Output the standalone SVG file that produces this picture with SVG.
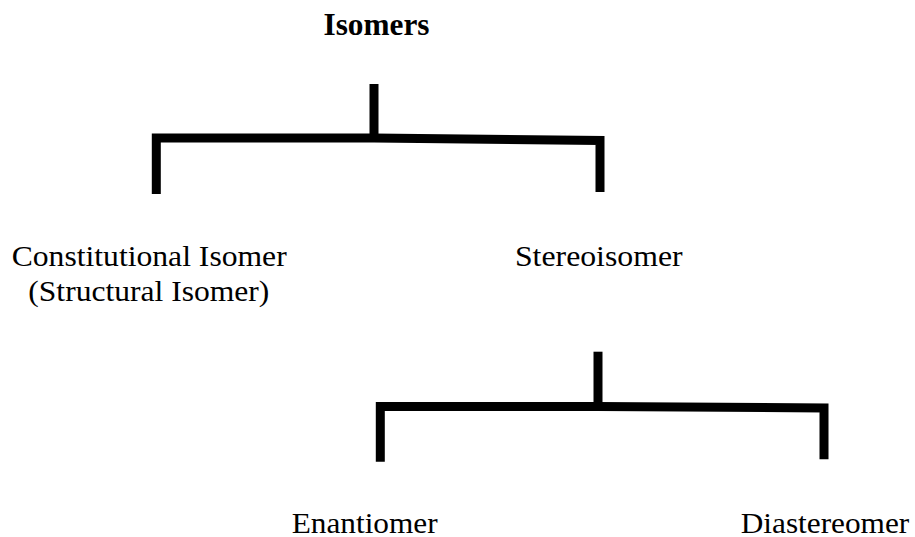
<svg xmlns="http://www.w3.org/2000/svg" width="915" height="537" viewBox="0 0 915 537">
<style>
.t{font-family:"Liberation Serif","Times New Roman",serif;font-size:28.5px;fill:#000;text-anchor:middle}
.b{font-weight:bold;font-size:32.5px}
.c{fill:none;stroke:#000;stroke-width:9;stroke-linejoin:miter;stroke-linecap:butt}
</style>
<rect width="915" height="537" fill="#fff"/>
<g id="connectors">
<path class="c" d="M374,84 V138"/>
<path class="c" d="M156.3,194 V138 H374 L600,140.5 V192"/>
<path class="c" d="M598,351.7 V406.5"/>
<path class="c" d="M380.3,461.7 V406.5 H598 L824,408 V459.3"/>
</g>
<g id="isomers"><text class="t b" x="376.5" y="35.3" textLength="106" lengthAdjust="spacingAndGlyphs">Isomers</text></g>
<g id="constitutional"><text class="t" x="149.2" y="266" textLength="275" lengthAdjust="spacingAndGlyphs">Constitutional Isomer</text><text class="t" x="148.8" y="301" textLength="241" lengthAdjust="spacingAndGlyphs">(Structural Isomer)</text></g>
<g id="stereoisomer"><text class="t" x="598.8" y="266" textLength="167.7" lengthAdjust="spacingAndGlyphs">Stereoisomer</text></g>
<g id="enantiomer"><text class="t" x="364.7" y="532.7" textLength="146" lengthAdjust="spacingAndGlyphs">Enantiomer</text></g>
<g id="diastereomer"><text class="t" x="825" y="533" textLength="168.6" lengthAdjust="spacingAndGlyphs">Diastereomer</text></g>
</svg>
